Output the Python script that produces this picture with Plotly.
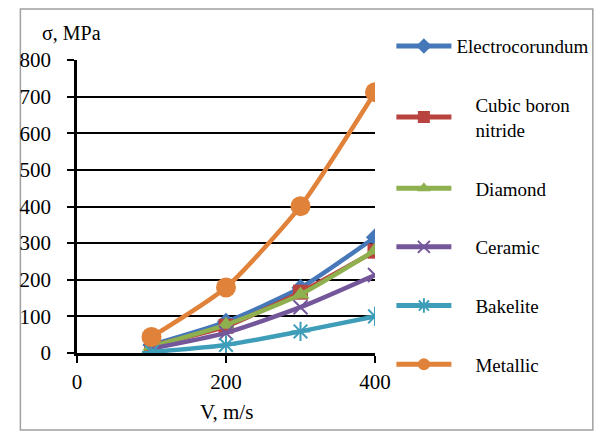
import plotly.graph_objects as go

speeds = [100, 200, 300, 400]
electrocorundum = [22, 85, 178, 316]
cubic_bn = [20, 73, 166, 278]
diamond = [18, 77, 160, 280]
ceramic = [12, 55, 125, 213]
bakelite = [3, 22, 59, 100]
metallic = [44, 179, 401, 712]

pad = "\u00a0" * 4
names = ["Electrocorundum", pad + "Cubic boron<br>" + pad + "nitride",
         pad + "Diamond", pad + "Ceramic", pad + "Bakelite", pad + "Metallic"]
series = [electrocorundum, cubic_bn, diamond, ceramic, bakelite, metallic]
colors = ["#4677B8", "#B8433F", "#8FB04F", "#74579A", "#3E9DB8", "#E0823A"]
symbols = ["diamond", "square", "triangle-up", "x-thin-open", "asterisk-open", "circle"]
sizes = [14, 15, 16, 14, 16, 20]

fig = go.Figure()
for i, (n, s) in enumerate(zip(names, series)):
    open_sym = symbols[i].endswith("open")
    fig.add_trace(go.Scatter(
        x=speeds, y=s, name=n, mode="lines+markers",
        line=dict(color=colors[i], width=4.5, shape="spline", smoothing=0.6),
        marker=dict(symbol=symbols[i], size=sizes[i], color=colors[i],
                    line=dict(color=colors[i], width=2 if open_sym else 0)),
        legendgroup=str(i),
    ))

font = "Liberation Serif"
fig.update_layout(
    width=600, height=424,
    margin=dict(l=58, r=233, t=52, b=79),
    paper_bgcolor="white", plot_bgcolor="white",
    font=dict(family=font, size=21, color="black"),
    showlegend=True,
    legend=dict(x=1.055, y=1.112, xanchor="left", yanchor="top",
                font=dict(family=font, size=19, color="black"),
                tracegroupgap=31, itemwidth=55, itemsizing="constant",
                bgcolor="rgba(0,0,0,0)", maxheight=500),
    xaxis=dict(range=[0, 400], dtick=200, tick0=0, showgrid=False,
               showline=True, linecolor="black", linewidth=2.5,
               ticks="outside", ticklen=7, tickwidth=2, tickcolor="black",
               ticklabelstandoff=1,
               zeroline=False, fixedrange=True),
    yaxis=dict(range=[0, 800], dtick=100, tick0=0, showgrid=True,
               gridcolor="black", gridwidth=2,
               showline=True, linecolor="black", linewidth=2.5,
               ticks="outside", ticklen=7, tickwidth=2, tickcolor="black",
               ticklabelstandoff=12,
               zeroline=False, fixedrange=True),
    annotations=[
        dict(text="σ, MPa", xref="paper", yref="paper", x=-0.123, y=1.092,
             xanchor="left", yanchor="middle", showarrow=False,
             font=dict(family=font, size=20)),
        dict(text="V, m/s", xref="paper", yref="paper", x=0.5, y=-0.201,
             xanchor="center", yanchor="middle", showarrow=False,
             font=dict(family=font, size=21)),
    ],
    shapes=[
        dict(type="rect", xref="paper", yref="paper",
             x0=-0.19, x1=1.731, y0=-0.263, y1=1.174,
             line=dict(color="#A0A0A0", width=1.5), fillcolor="rgba(0,0,0,0)",
             layer="below"),
    ],
)

fig.write_html("out.html")
